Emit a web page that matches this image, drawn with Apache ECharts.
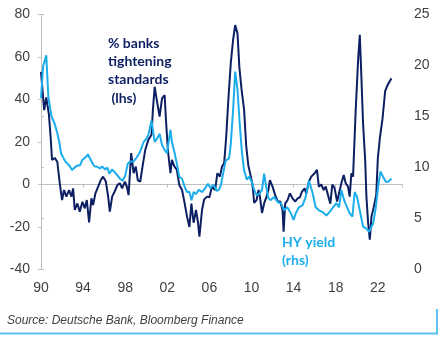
<!DOCTYPE html>
<html>
<head>
<meta charset="utf-8">
<script src="https://cdn.jsdelivr.net/npm/echarts@6/dist/echarts.min.js"></script>
<style>html,body{margin:0;padding:0;background:#fff}#c{width:444px;height:340px}</style>
</head>
<body>
<div id="c"></div>
<script>
// Tick labels
const xTickLabels = ['90','94','98','02','06','10','14','18','22'];
const leftTicks = [-40,-20,0,20,40,60,80];
const rightTicks = [0,5,10,15,20,25];

// % banks tightening standards (lhs)
const bankYears = [1990.0,1990.3,1990.5,1990.75,1990.92,1991.05,1991.3,1991.55,1991.78,1992.0,1992.19,1992.41,1992.67,1992.89,1993.05,1993.21,1993.46,1993.68,1993.94,1994.16,1994.35,1994.57,1994.79,1994.95,1995.17,1995.43,1995.68,1995.9,1996.16,1996.38,1996.54,1996.76,1997.0,1997.27,1997.49,1997.71,1997.97,1998.16,1998.32,1998.57,1998.8,1999.0,1999.2,1999.43,1999.65,1999.9,2000.2,2000.5,2000.63,2000.8,2001.0,2001.27,2001.5,2001.75,2001.87,2002.06,2002.3,2002.44,2002.67,2002.9,2003.14,2003.4,2003.65,2003.87,2004.1,2004.29,2004.5,2004.73,2004.92,2005.05,2005.3,2005.5,2005.78,2006.0,2006.25,2006.54,2006.76,2007.0,2007.2,2007.4,2007.6,2007.8,2008.03,2008.25,2008.45,2008.67,2008.85,2009.05,2009.3,2009.5,2009.7,2009.94,2010.1,2010.25,2010.48,2010.67,2010.8,2011.0,2011.2,2011.43,2011.6,2011.75,2012.0,2012.25,2012.5,2012.73,2012.95,2013.05,2013.2,2013.43,2013.65,2013.9,2014.16,2014.38,2014.6,2014.8,2015.05,2015.2,2015.46,2015.68,2016.0,2016.22,2016.4,2016.63,2016.86,2017.05,2017.27,2017.49,2017.68,2017.9,2018.13,2018.32,2018.54,2018.76,2018.95,2019.17,2019.33,2019.49,2019.65,2019.9,2020.13,2020.29,2020.44,2020.6,2020.8,2020.92,2021.08,2021.24,2021.4,2021.6,2021.85,2022.0,2022.2,2022.45,2022.7,2022.95,2023.3];
const bankValues = [53,35,41,33,22,11.5,12.5,10.7,0.7,-7.3,-2.6,-5.7,-2.6,-5.7,-1.8,-12,-8.9,-12.8,-8.1,-11.2,-7.3,-17.8,-6.5,-9.7,-4.2,-1.0,2.1,3.7,1.4,-5.7,-12.8,-5.7,-3.3,-0.2,0.6,-1.8,1.4,-1,-5,14.8,5.3,8.5,2,1.4,8.5,16.2,21,23.4,35,46,39.7,32,40.5,42,30.6,16,5.3,11.6,8.5,7,-0.2,-2.6,-8.9,-15,-20,-9,-18,-12,-18,-24.6,-12,-7,-5.7,-6,-1,-2.6,5.3,3.7,8.5,10,22.6,39.8,57,68,75,71,55,45,35,18,9,3.7,0,-8.7,-7.3,-2.6,-5.7,-13.4,-8.9,-5.7,-2.6,2.1,-1,-5,-8,-8,-12,-22.2,-9,-7.3,-4.2,-6.5,-8,-6.5,-6,-3.3,-1.8,-4.2,1.4,3.7,5.3,6.9,-1,0,-2.6,-1,-5,-9,0,-1.8,-8,-4,0.6,4.5,0.6,-1,-5.7,5.3,3.7,35,58.6,70.4,50.7,28.8,11.6,-5.7,-18,-26,-15,-11,-5,12,22,31,44,47,50];

// HY yield (rhs)
const hyYears = [1990.0,1990.2,1990.5,1990.7,1991.0,1991.3,1991.55,1991.75,1991.9,1992.05,1992.3,1992.5,1992.75,1992.95,1993.1,1993.3,1993.5,1993.7,1993.9,1994.1,1994.3,1994.45,1994.65,1994.9,1995.1,1995.3,1995.6,1995.8,1996.1,1996.3,1996.5,1996.75,1996.95,1997.2,1997.5,1997.75,1998.0,1998.25,1998.5,1998.8,1999.1,1999.4,1999.75,2000.0,2000.2,2000.5,2000.8,2001.0,2001.27,2001.5,2001.75,2001.97,2002.3,2002.44,2002.7,2002.9,2003.14,2003.4,2003.65,2003.87,2004.1,2004.3,2004.5,2004.7,2005.0,2005.3,2005.55,2005.87,2006.1,2006.4,2006.7,2006.9,2007.1,2007.3,2007.56,2007.87,2008.03,2008.25,2008.45,2008.67,2008.9,2009.1,2009.3,2009.56,2009.78,2010.03,2010.25,2010.48,2010.73,2011.0,2011.2,2011.4,2011.6,2011.8,2012.16,2012.5,2012.8,2013.1,2013.4,2013.75,2014.0,2014.2,2014.5,2014.86,2015.14,2015.46,2015.78,2016.1,2016.4,2016.73,2017.11,2017.43,2017.75,2018.06,2018.32,2018.54,2018.8,2019.08,2019.33,2019.59,2019.81,2020.03,2020.29,2020.6,2020.92,2021.17,2021.4,2021.56,2021.81,2022.03,2022.25,2022.5,2022.76,2022.98,2023.3];
const hyValues = [16.8,19.9,21,16.9,15.0,14.3,13.35,12.4,11.4,11.5,10.6,10.4,10.1,9.75,9.6,10.1,10.2,10.2,10.7,10.9,11.05,11.3,10.9,10.4,10.1,10.1,9.9,10.1,9.8,10.0,9.4,9.8,9.6,9.3,8.9,8.7,9.2,10.4,10.6,10.6,11.0,11.5,12.5,12.8,13.2,14.6,12.5,12.8,13.3,12.2,11.7,11.4,13.7,12.5,11.4,10.4,9.1,8.9,8.1,7.6,7.6,6.8,7.6,7.4,7.8,7.6,7.9,8.4,8.0,8.3,7.7,7.8,8.3,9.4,10.7,10.9,12.3,15.6,19.4,17.6,14,11.4,9.7,8.8,9.1,8.6,7.8,7.3,7.4,7.8,9.4,8.1,7.0,6.8,7.1,6.6,6.5,5.8,6.1,5.5,4.85,5.5,6.1,6.3,7.1,8.7,7.6,6.1,5.8,5.65,5.3,5.65,6.1,6.5,6.1,7.8,6.8,6.1,5.5,5.2,7.6,7.1,5.8,4.2,4.0,3.7,4.2,4.5,6.1,8.1,9.6,9.1,8.6,8.6,8.9];

const BASE = 1990;
const bankData = bankYears.map((y, i) => [y - BASE, bankValues[i]]);
const hyData = hyYears.map((y, i) => [y - BASE, hyValues[i]]);

const DARK = '#0d1f63';
const LIGHT = '#1badec';
const GRAY = '#bfbfbf';
const TXT = '#404040';
const FONT = '"Liberation Sans", Arial, sans-serif';

const chart = echarts.init(document.getElementById('c'), null, {renderer: 'canvas'});
chart.setOption({
  animation: false,
  backgroundColor: '#fff',
  grid: {left: 41, right: 42, top: 14.5, bottom: 70.5, containLabel: false},
  xAxis: [
    {
      type: 'value', min: 0, max: 34.3, interval: 4,
      axisLine: {show: false}, axisTick: {show: false}, splitLine: {show: false},
      axisLabel: {
        margin: 12, color: TXT, fontSize: 14, fontFamily: FONT,
        showMaxLabel: false,
        formatter: v => { const i = Math.round(v / 4); return (Math.abs(v - i * 4) < 1e-6 && xTickLabels[i]) ? xTickLabels[i] : ''; }
      }
    },
    {
      type: 'value', min: 0, max: 34.3, interval: 4, position: 'bottom',
      axisLine: {show: true, onZero: true, onZeroAxisIndex: 0, lineStyle: {color: GRAY, width: 1}},
      axisTick: {show: true, length: 3, lineStyle: {color: GRAY}},
      axisLabel: {show: false}, splitLine: {show: false}
    }
  ],
  yAxis: [
    {
      type: 'value', min: leftTicks[0], max: leftTicks[leftTicks.length - 1], interval: 20, position: 'left',
      axisLine: {show: true, lineStyle: {color: GRAY}},
      axisTick: {show: true, length: 3, lineStyle: {color: GRAY}},
      splitLine: {show: false},
      axisLabel: {margin: 11, color: TXT, fontSize: 14, fontFamily: FONT}
    },
    {
      type: 'value', min: rightTicks[0], max: rightTicks[rightTicks.length - 1], interval: 5, position: 'right',
      axisLine: {show: true, lineStyle: {color: GRAY}},
      axisTick: {show: true, length: 3, lineStyle: {color: GRAY}},
      splitLine: {show: false},
      axisLabel: {margin: 12, color: TXT, fontSize: 14, fontFamily: FONT}
    }
  ],
  series: [
    {
      name: '% banks tightening standards (lhs)', type: 'line', xAxisIndex: 0, yAxisIndex: 0,
      data: bankData, showSymbol: false, symbol: 'none',
      lineStyle: {color: DARK, width: 2}, z: 3
    },
    {
      name: 'HY yield (rhs)', type: 'line', xAxisIndex: 0, yAxisIndex: 1,
      data: hyData, showSymbol: false, symbol: 'none',
      lineStyle: {color: LIGHT, width: 2}, z: 4
    }
  ],
  graphic: [
    {type: 'text', left: 108, top: 34, style: {text: '% banks\ntightening\nstandards\n (lhs)', fill: DARK, font: 'bold 14px Lato, sans-serif', lineHeight: 18.3}},
    {type: 'text', left: 282, top: 233, style: {text: 'HY yield\n(rhs)', fill: LIGHT, font: 'bold 14px Lato, sans-serif', lineHeight: 18}},
    {type: 'text', left: 7, top: 315, style: {text: 'Source: Deutsche Bank, Bloomberg Finance', fill: TXT, font: 'italic 12px "Liberation Sans", Arial, sans-serif'}},
    {type: 'line', shape: {x1: 0, y1: 333.5, x2: 438, y2: 333.5}, style: {stroke: '#5dc3ee', lineWidth: 2}},
    {type: 'line', shape: {x1: 437, y1: 309, x2: 437, y2: 334.5}, style: {stroke: '#5dc3ee', lineWidth: 2}}
  ]
});
</script>
</body>
</html>
